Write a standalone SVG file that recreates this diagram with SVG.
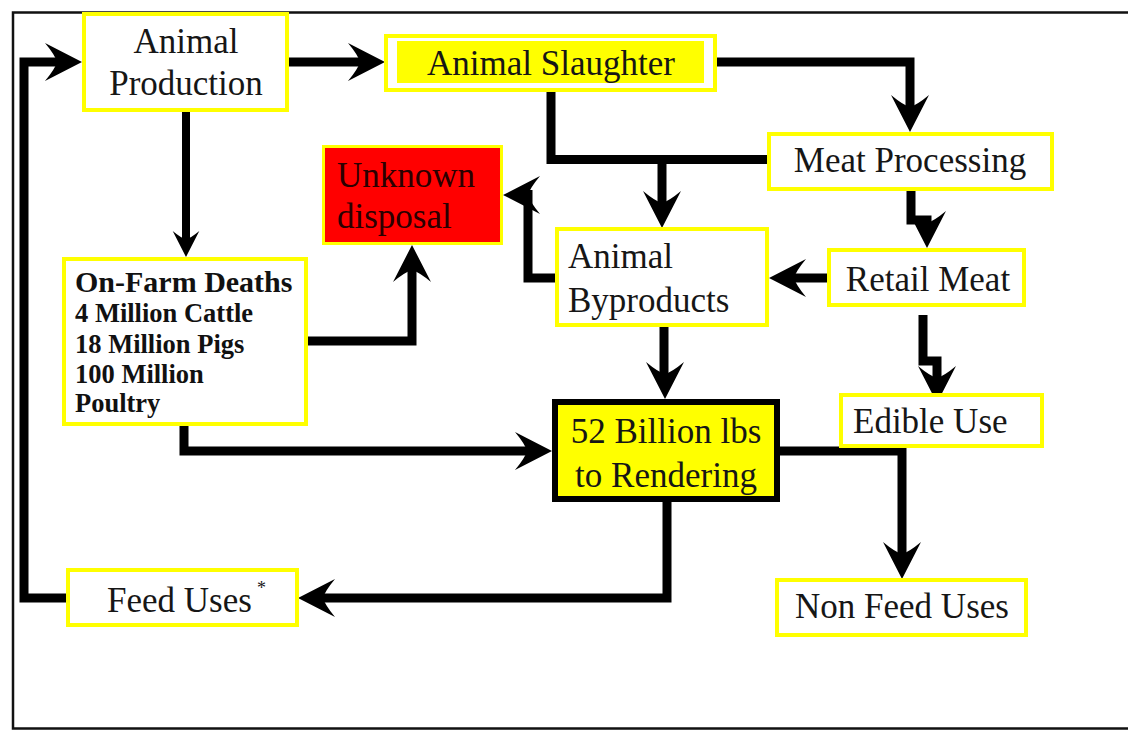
<svg xmlns="http://www.w3.org/2000/svg" width="1128" height="732" viewBox="0 0 1128 732">
<style>
.box{fill:#fff;stroke:#ffff00;stroke-width:4}
.t{font-family:"Liberation Serif","Times New Roman",serif;font-size:35px;fill:#161616}
.c{text-anchor:middle}
.b{font-family:"Liberation Serif","Times New Roman",serif;font-weight:bold;fill:#111}
.ln{fill:none;stroke:#000;stroke-width:9;stroke-linejoin:miter;stroke-linecap:butt}
</style>
<defs>
<path id="ah" d="M0,0 L-37,-19 Q-27,-7 -25,0 Q-27,7 -37,19 Z" fill="#000"/>
</defs>
<rect x="0" y="0" width="1128" height="732" fill="#fff"/>
<rect x="13" y="12.5" width="1130" height="716" fill="none" stroke="#111" stroke-width="2.5"/>

<g id="connectors">
<path class="ln" d="M68,598 H24 V62 H60"/>
<use href="#ah" transform="translate(82,62)"/>
<path class="ln" d="M289,62 H362"/>
<use href="#ah" transform="translate(385,62)"/>
<path class="ln" d="M717,62 H910 V110"/>
<use href="#ah" transform="translate(910,132) rotate(90)"/>
<path class="ln" d="M186,112 V240" style="stroke-width:8"/>
<use href="#ah" transform="translate(186,257) rotate(90) scale(0.7)"/>
<path class="ln" d="M551,92 V159.5 H767"/>
<path class="ln" d="M662,159 V206"/>
<use href="#ah" transform="translate(662,228) rotate(90)"/>
<path class="ln" d="M557,278 H528 V190"/>
<use href="#ah" transform="translate(503,195) rotate(180)"/>
<path class="ln" d="M308,341 H412 V268"/>
<use href="#ah" transform="translate(412,245) rotate(-90)"/>
<path class="ln" d="M911,191 V220 H927 V226"/>
<use href="#ah" transform="translate(927,248) rotate(90)"/>
<path class="ln" d="M827,278 H792"/>
<use href="#ah" transform="translate(769,278) rotate(180)"/>
<path class="ln" d="M923,315 V361 H937 V380"/>
<use href="#ah" transform="translate(937,403) rotate(90)"/>
<path class="ln" d="M664,327 V376"/>
<use href="#ah" transform="translate(665,399) rotate(90)"/>
<path class="ln" d="M184,426 V451 H530"/>
<use href="#ah" transform="translate(552,451)"/>
<path class="ln" d="M780,451 H902 V556"/>
<use href="#ah" transform="translate(902,579) rotate(90)"/>
<path class="ln" d="M667,502 V598 H320"/>
<use href="#ah" transform="translate(298,598) rotate(180)"/>
</g>

<g id="animal-production">
<rect class="box" x="84" y="14" width="203" height="96"/>
<text class="t c" x="186" y="53">Animal</text>
<text class="t c" x="186" y="95">Production</text>
</g>

<g id="animal-slaughter">
<rect class="box" x="386" y="36" width="329" height="54"/>
<rect x="397" y="41" width="307" height="42" fill="#ffff00"/>
<text class="t c" x="551" y="75">Animal Slaughter</text>
</g>

<g id="meat-processing">
<rect class="box" x="769" y="134" width="283" height="55"/>
<text class="t c" x="910" y="172">Meat Processing</text>
</g>

<g id="unknown-disposal">
<rect x="323.5" y="146.5" width="178" height="97" fill="#ff0000" stroke="#ffff00" stroke-width="3"/>
<text class="t" x="337" y="187" style="fill:#2a0000">Unknown</text>
<text class="t" x="337" y="228" style="fill:#2a0000">disposal</text>
</g>

<g id="animal-byproducts">
<rect class="box" x="557" y="229" width="210" height="96"/>
<text class="t" x="568" y="268">Animal</text>
<text class="t" x="568" y="312">Byproducts</text>
</g>

<g id="retail-meat">
<rect class="box" x="829" y="250" width="195" height="55"/>
<text class="t c" x="928" y="291">Retail Meat</text>
</g>

<g id="on-farm-deaths">
<rect class="box" x="64" y="259" width="242" height="165"/>
<text class="b" x="75" y="292" font-size="30">On-Farm Deaths</text>
<text class="b" x="75" y="322" font-size="26.5">4 Million Cattle</text>
<text class="b" x="75" y="353" font-size="26.5">18 Million Pigs</text>
<text class="b" x="75" y="383" font-size="26.5">100 Million</text>
<text class="b" x="75" y="412" font-size="26.5">Poultry</text>
</g>

<g id="edible-use">
<rect class="box" x="841" y="395" width="201" height="51"/>
<text class="t" x="853" y="433">Edible Use</text>
</g>

<g id="rendering">
<rect x="555" y="402" width="222" height="97" fill="#ffff00" stroke="#000" stroke-width="6"/>
<text class="t c" x="666" y="443">52 Billion lbs</text>
<text class="t c" x="666" y="487">to Rendering</text>
</g>

<g id="non-feed-uses">
<rect class="box" x="777" y="580" width="249" height="55"/>
<text class="t c" x="902" y="618">Non Feed Uses</text>
</g>

<g id="feed-uses">
<rect class="box" x="68" y="570" width="229" height="55"/>
<text class="t" x="107" y="612">Feed Uses</text>
<text class="t" x="257" y="594" style="font-size:18px">*</text>
</g>
</svg>
